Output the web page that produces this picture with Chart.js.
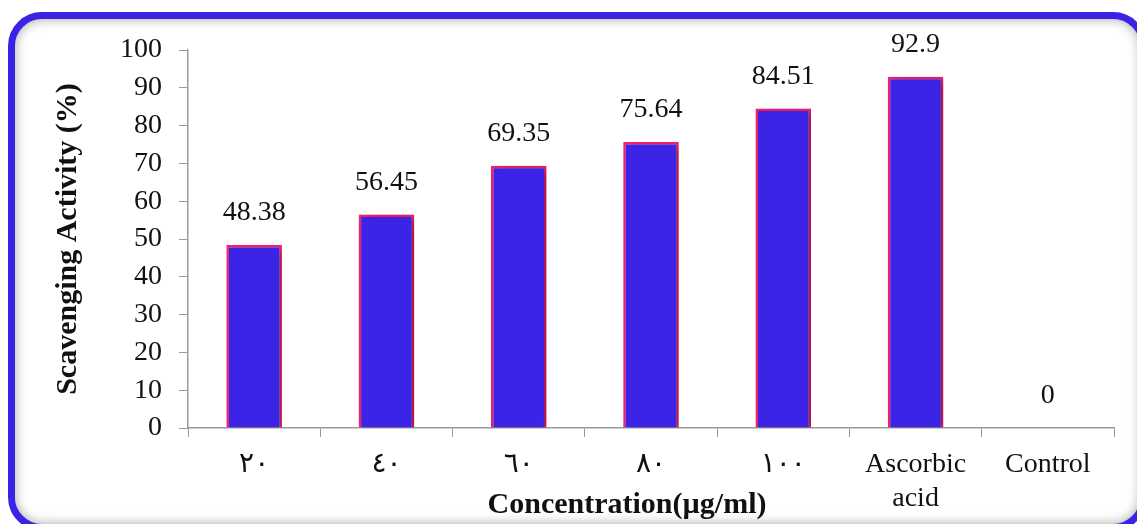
<!DOCTYPE html>
<html>
<head>
<meta charset="utf-8">
<script src="https://cdn.jsdelivr.net/npm/chart.js@4.4.1/dist/chart.umd.min.js"></script>
<style>
  html, body { margin: 0; padding: 0; background: #fff; overflow: hidden; }
  #wrap { position: relative; width: 1137px; height: 524px; }
  #frame {
    position: absolute; left: 8px; top: 12px; width: 1125px; height: 505px;
    border: 7px solid #3b23e6; border-radius: 34px;
    box-shadow: inset 0 0 12px rgba(0,0,0,0.35);
    background: #fff;
  }
  #chart { position: absolute; left: 0; top: 0; }
</style>
</head>
<body>
<div id="wrap">
  <div id="frame"></div>
  <canvas id="chart" width="1137" height="524"></canvas>
</div>
<script>
// data
const categories = ["٢٠", "٤٠", "٦٠", "٨٠", "١٠٠", ["Ascorbic", "acid"], "Control"];
const activity = [48.38, 56.45, 69.35, 75.64, 84.51, 92.9, 0];
const yTicks = [0, 10, 20, 30, 40, 50, 60, 70, 80, 90, 100];

const FONT = "'Liberation Serif', 'Times New Roman', 'DejaVu Sans', serif";

// soft grey shadow behind the bars
const barShadow = {
    id: "barShadow",
    beforeDatasetsDraw(chart) {
        const ctx = chart.ctx;
        ctx.save();
        ctx.shadowColor = "rgba(0,0,0,0.4)";
        ctx.shadowBlur = 9;
        ctx.shadowOffsetX = 4;
        ctx.shadowOffsetY = 2;
    },
    afterDatasetsDraw(chart) {
        chart.ctx.restore();
    }
};

// value labels above bars + x axis title
const valueLabels = {
    id: "valueLabels",
    afterDraw(chart) {
        const ctx = chart.ctx;
        const meta = chart.getDatasetMeta(0);
        ctx.save();
        ctx.font = "28px " + FONT;
        ctx.fillStyle = "#111";
        ctx.textAlign = "center";
        ctx.textBaseline = "middle";
        meta.data.forEach((bar, i) => {
            ctx.fillText(String(activity[i]), bar.x, bar.y - 32);
        });
        ctx.font = "bold 30px " + FONT;
        ctx.fillText("Concentration(µg/ml)", 627, 505);
        ctx.restore();
    }
};

new Chart(document.getElementById("chart").getContext("2d"), {
    type: "bar",
    data: {
        labels: categories,
        datasets: [{
            data: activity,
            backgroundColor: "#3b24e6",
            borderColor: "#ff1f6e",
            borderWidth: 2.5,
            borderSkipped: "bottom",
            categoryPercentage: 1,
            barPercentage: 0.42
        }]
    },
    options: {
        responsive: false,
        animation: false,
        devicePixelRatio: 1,
        layout: { padding: { left: 0, top: 50, right: 23, bottom: 0 } },
        plugins: {
            legend: { display: false },
            tooltip: { enabled: false }
        },
        scales: {
            x: {
                afterFit: (s) => { s.height = 96; },
                grid: {
                    drawOnChartArea: false,
                    drawTicks: true,
                    tickLength: 9,
                    color: "#999"
                },
                border: { color: "#999", width: 1.5 },
                ticks: {
                    color: "#111",
                    padding: 11,
                    maxRotation: 0,
                    autoSkip: false,
                    font: { family: FONT, size: 28, lineHeight: 1.2 }
                }
            },
            y: {
                min: 0,
                max: 100,
                afterFit: (s) => { s.width = 188; },
                afterBuildTicks: (s) => { s.ticks = yTicks.map(v => ({ value: v })); },
                grid: {
                    drawOnChartArea: false,
                    drawTicks: true,
                    tickLength: 9,
                    color: "#999"
                },
                border: { color: "#999", width: 1.5 },
                ticks: {
                    color: "#111",
                    padding: 17,
                    font: { family: FONT, size: 28 }
                },
                title: {
                    display: true,
                    text: "Scavenging Activity (%)",
                    color: "#111",
                    padding: { top: 50, bottom: 0 },
                    font: { family: FONT, size: 30, weight: "bold" }
                }
            }
        }
    },
    plugins: [barShadow, valueLabels]
});
</script>
</body>
</html>
